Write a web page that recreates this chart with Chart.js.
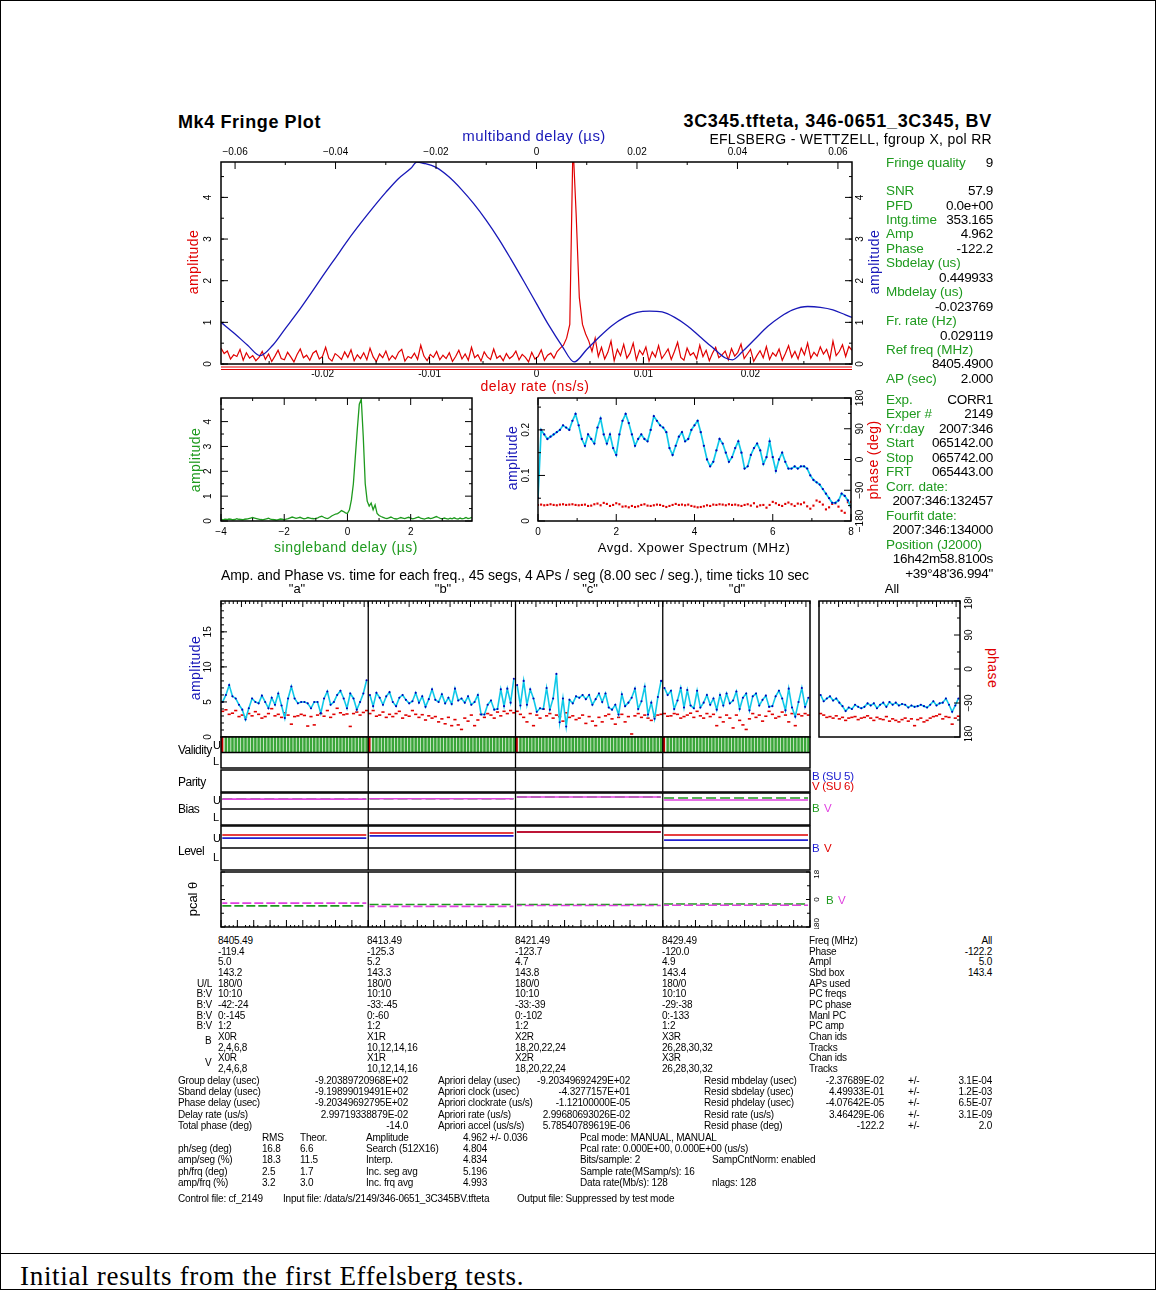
<!DOCTYPE html>
<html><head><meta charset="utf-8">
<script src="https://cdn.jsdelivr.net/npm/chart.js@4.4.0/dist/chart.umd.min.js"></script>
<style>
body{margin:0;background:#fff;width:1156px;height:1290px;position:relative;overflow:hidden;font-family:"Liberation Sans",Arial,sans-serif}
.t{position:absolute;white-space:nowrap;line-height:1}
canvas{position:absolute}
</style></head><body>
<div style="position:absolute;left:0;top:0;width:1154px;height:1288px;border:1px solid #000"></div>
<div style="position:absolute;left:0;top:1253px;width:1156px;height:1px;background:#000"></div>
<script>
// ================= DATA =================
// Top panel: delay-rate spectrum (red), delay rate axis -0.0295..0.0295 ns/s, 200 bins
const delayRateRange = [-0.0295, 0.0295];
const delayRateAmp = [
.38,.25,.31,.12,.22,.18,.35,.09,.27,.14, .20,.08,.16,.30,.11,.24,.06,.19,.33,.13,
.10,.28,.17,.05,.23,.36,.15,.21,.09,.26, .32,.12,.18,.40,.14,.07,.25,.19,.11,.29,
.16,.34,.08,.22,.13,.27,.10,.38,.17,.06, .24,.15,.31,.09,.20,.12,.28,.35,.07,.18,
.14,.26,.11,.45,.19,.08,.23,.16,.30,.10, .21,.13,.27,.06,.18,.33,.12,.24,.09,.40,
.15,.22,.07,.29,.17,.11,.36,.14,.20,.08, .25,.13,.19,.31,.10,.23,.16,.05,.28,.12,
.18,.34,.09,.21,.26,.14,.30,.38,.45,.62, .95,5.3,3.6,1.6,.95,.72,.55,.30,.62,.18,
.40,.12,.28,.55,.08,.35,.20,.47,.14,.26, .50,.10,.33,.22,.41,.07,.29,.17,.44,.13,
.24,.36,.11,.30,.52,.16,.09,.38,.21,.27, .12,.45,.18,.33,.08,.26,.40,.15,.22,.31,
.10,.37,.19,.28,.48,.13,.24,.35,.06,.20, .32,.15,.42,.11,.27,.19,.36,.09,.25,.44,
.16,.30,.12,.38,.22,.50,.14,.28,.19,.41, .24,.35,.11,.55,.20,.30,.46,.18,.42,.33];
// Top panel: multiband delay function (blue)
const mbdDelay = [-0.0628,-0.0600,-0.0575,-0.0550,-0.0525,-0.0500,-0.0475,-0.0450,-0.0425,-0.0400,-0.0375,-0.0350,-0.0325,-0.0300,-0.0275,-0.0250,-0.0238,-0.0225,-0.0200,-0.0175,-0.0150,-0.0125,-0.0100,-0.0075,-0.0050,-0.0025,0.0000,0.0025,0.0050,0.0075,0.0100,0.0125,0.0150,0.0175,0.0200,0.0225,0.0250,0.0275,0.0300,0.0325,0.0350,0.0375,0.0390,0.0410,0.0435,0.0460,0.0485,0.0510,0.0540,0.0565,0.0590,0.0615,0.0628];
const mbdAmp = [1.00,0.72,0.45,0.20,0.45,0.85,1.25,1.68,2.12,2.55,2.98,3.38,3.76,4.12,4.45,4.70,4.85,4.82,4.72,4.50,4.20,3.85,3.45,3.00,2.50,1.98,1.45,0.92,0.45,0.05,0.35,0.65,0.92,1.12,1.24,1.27,1.25,1.12,0.92,0.66,0.40,0.15,0.10,0.30,0.60,0.90,1.13,1.30,1.38,1.36,1.30,1.18,1.12];
const mbdTicks = [-0.06,-0.04,-0.02,0,0.02,0.04,0.06];
const mbdTickLabels = ['\u22120.06','\u22120.04','\u22120.02','0','0.02','0.04','0.06'];
const drTicks = [-0.02,-0.01,0,0.01,0.02];
const drTickLabels = ['-0.02','-0.01','0','0.01','0.02'];
const ampTicks = [0,1,2,3,4];

// Singleband delay (green), -4 .. 3.9375 us in 0.0625 steps
const sbdStart = -4, sbdStep = 0.0625;
const sbdAmp = [
.06,.05,.07,.06,.08,.07,.05,.06,.09,.07,.06,.05,.07,.08,.10,.12,
.14,.12,.10,.08,.06,.05,.07,.09,.11,.08,.06,.05,.04,.06,.08,.07,
.05,.08,.10,.13,.16,.14,.11,.13,.15,.12,.09,.11,.14,.12,.10,.09,
.11,.13,.17,.19,.15,.12,.10,.14,.20,.24,.28,.30,.35,.42,.38,.33,
.30,.45,.85,1.5,2.6,3.7,4.7,4.9,3.4,1.5,0.8,0.6,0.72,0.45,0.65,0.3,
.22,.18,.15,.12,.10,.13,.16,.12,.09,.08,.11,.14,.12,.10,.13,.15,
.12,.09,.11,.14,.16,.12,.10,.08,.11,.13,.10,.12,.15,.18,.14,.11,
.09,.12,.10,.08,.11,.09,.13,.10,.08,.12,.09,.11,.14,.10,.12,.15];
const sbdTicks = [-4,-2,0,2];

// Averaged cross-power spectrum, 0..8 MHz, 0.08 MHz steps
const xpStep = 0.08;
const xpAmp = [0.05,0.20,0.19,0.18,0.185,0.19,0.195,0.20,0.21,0.205,0.20,0.22,0.235,0.21,0.18,0.165,0.19,0.18,0.17,0.205,0.225,0.19,0.17,0.19,0.16,0.145,0.19,0.22,0.235,0.215,0.19,0.165,0.18,0.19,0.18,0.175,0.20,0.23,0.22,0.21,0.205,0.195,0.16,0.145,0.165,0.185,0.195,0.175,0.18,0.20,0.21,0.22,0.195,0.165,0.135,0.12,0.13,0.155,0.18,0.17,0.15,0.13,0.14,0.16,0.175,0.15,0.115,0.12,0.145,0.16,0.17,0.155,0.125,0.14,0.175,0.14,0.11,0.135,0.15,0.13,0.115,0.115,0.12,0.115,0.12,0.12,0.115,0.10,0.09,0.085,0.08,0.07,0.06,0.05,0.04,0.04,0.045,0.06,0.055,0.045,0.03];
const xpPhase = [-133,-132,-134,-133,-131,-133,-134,-132,-131,-133,-132,-131,-133,-134,-133,-132,-136,-135,-131,-129,-134,-127,-130,-136,-133,-128,-131,-138,-137,-140,-136,-139,-137,-133,-131,-135,-136,-134,-132,-133,-136,-139,-136,-133,-130,-133,-132,-134,-132,-136,-138,-140,-139,-137,-134,-136,-132,-133,-131,-132,-134,-131,-133,-132,-134,-136,-133,-131,-135,-128,-138,-134,-133,-141,-133,-124,-128,-133,-136,-130,-126,-131,-136,-129,-131,-126,-137,-144,-135,-120,-124,-132,-146,-140,-130,-128,-138,-150,-156,-125,-124];
const xpTicks = [0,2,4,6,8];
const xpAmpTicks = [0,0.1,0.2];
const phaseTicks = [-180,-90,0,90,180];

// Amplitude / phase vs time, 45 segments per channel
const segAmpA = [5.0,6.0,7.4,5.8,5.5,4.6,3.9,2.5,4.1,5.5,5.0,4.8,5.9,5.0,4.1,5.6,4.6,6.2,4.5,2.7,5.5,7.2,5.5,4.8,5.0,5.0,4.8,4.1,5.0,5.0,3.4,5.5,6.5,4.6,5.0,6.0,6.6,5.5,4.1,6.2,5.5,3.9,5.0,6.2,8.1];
const segAmpB = [6.0,4.4,6.3,5.6,4.6,5.8,6.4,5.0,4.4,5.6,6.0,5.3,4.8,5.1,6.3,4.9,5.8,4.3,5.4,6.8,5.3,5.0,6.1,4.8,5.6,4.7,6.9,5.2,5.5,4.9,5.8,4.6,5.0,6.0,3.2,3.2,4.6,5.2,3.9,4.0,6.8,4.4,6.9,4.9,8.3];
const segAmpC = [7.4,4.5,8.0,4.6,6.8,5.5,3.6,4.1,4.0,7.0,3.9,5.5,9.0,2.1,5.5,1.5,5.3,4.8,5.8,5.6,6.0,5.4,6.0,4.6,5.4,6.2,5.0,6.2,4.2,3.9,4.6,3.2,6.1,4.4,4.9,5.6,6.9,4.0,5.1,7.2,3.2,4.9,2.6,5.7,8.0];
const segAmpD = [7.0,6.0,6.6,4.0,5.2,7.0,4.2,6.7,4.5,4.1,6.6,4.2,4.9,6.0,4.6,5.5,3.9,6.0,4.5,6.2,4.8,5.2,6.5,4.0,5.6,6.2,3.8,5.8,6.2,4.5,5.3,5.9,4.3,4.4,5.8,6.6,5.5,3.8,6.9,4.2,2.9,5.0,7.0,4.3,5.6];
const segAmpAll = [6.0,5.1,5.5,5.8,5.2,5.5,4.9,4.4,3.7,4.2,4.0,4.6,4.3,4.1,4.3,4.8,4.5,4.8,4.1,4.6,4.9,4.3,5.0,4.6,4.9,4.5,4.7,4.6,4.2,4.5,4.3,4.4,4.6,4.4,4.2,4.6,5.1,4.5,4.8,4.9,5.5,4.6,3.6,4.5,5.5];
const segPhA = [-112,-108,-120,-117,-110,-126,-122,-128,-118,-124,-113,-120,-130,-126,-118,-105,-124,-120,-128,-116,-122,-146,-126,-124,-120,-123,-151,-126,-148,-122,-118,-125,-110,-128,-120,-104,-116,-121,-119,-152,-118,-114,-122,-115,-110];
const segPhB = [-118,-110,-125,-122,-114,-128,-120,-126,-118,-112,-130,-122,-125,-110,-120,-128,-121,-135,-124,-130,-126,-140,-132,-145,-128,-150,-134,-148,-160,-130,-138,-122,-150,-135,-120,-128,-118,-122,-130,-114,-124,-112,-118,-110,-116];
const segPhC = [-112,-120,-128,-140,-118,-150,-122,-130,-106,-124,-118,-130,-122,-126,-138,-116,-128,-124,-134,-130,-122,-144,-126,-138,-150,-128,-140,-124,-120,-132,-146,-128,-120,-140,-126,-172,-124,-118,-128,-122,-130,-136,-126,-122,-120];
const segPhD = [-118,-125,-124,-118,-120,-130,-126,-122,-117,-128,-112,-124,-130,-118,-126,-120,-150,-128,-140,-122,-130,-156,-122,-136,-148,-160,-132,-118,-128,-122,-138,-125,-112,-120,-130,-126,-114,-122,-140,-118,-150,-120,-124,-118,-122];
const segPhAll = [-118,-122,-128,-126,-130,-124,-132,-128,-136,-130,-128,-126,-134,-130,-128,-124,-130,-136,-128,-132,-134,-126,-138,-132,-136,-140,-134,-130,-138,-132,-150,-134,-130,-140,-136,-130,-126,-124,-120,-132,-126,-128,-146,-130,-125];
const segAmpTicks = [0,5,10,15];
const channels = ['"a"','"b"','"c"','"d"'];
const nSegs = 45;
// validity per segment: 'r' flagged, '1' valid, '0' blank
const validity = [
'r11111111111111111111111111111111111111111111',
'r11111111111111111111111111111111111111111111',
'r11111111111111111111111111111111111111111111',
'r11111111111111111111111111111111111111111111'];
// Bias / level / pcal per channel (B, V)
const biasB = [1.62,1.64,1.75,1.69];
const biasV = [1.62,1.64,1.75,1.56];
const levelB = [1.45,1.55,1.73,1.36];
const levelV = [1.59,1.68,1.73,1.59];
const pcalB = [-42,-33,-33,-29];
const pcalV = [-24,-45,-39,-38];

// ================= HELPERS =================
const deco = {
  id:'deco',
  beforeDatasetsDraw(chart, args, o){
    if(!o.band)return;
    const ctx=chart.ctx,a=chart.chartArea,s=chart.scales[o.band.scale];
    const y1=s.getPixelForValue(o.band.to),y0=s.getPixelForValue(o.band.from);
    ctx.save();ctx.fillStyle=o.band.color;ctx.fillRect(a.left,y1,a.right-a.left,y0-y1);ctx.restore();
  },
  afterDatasetsDraw(chart, args, o){
    const ctx=chart.ctx, a=chart.chartArea;
    ctx.save();
    ctx.strokeStyle='#000';
    ctx.lineWidth=1.3;
    (o.hlines||[]).forEach(h=>{const s=chart.scales[h.scale];const p=s.getPixelForValue(h.value);ctx.beginPath();ctx.moveTo(a.left,p);ctx.lineTo(a.right,p);ctx.stroke();});
    (o.vlines||[]).forEach(v=>{const s=chart.scales[v.scale||'x'];const p=s.getPixelForValue(v.value);ctx.beginPath();ctx.moveTo(p,a.top);ctx.lineTo(p,a.bottom);ctx.stroke();});
    (o.axes||[]).forEach(ax=>{
      const s=chart.scales[ax.scale];
      ctx.strokeStyle='#000';ctx.lineWidth=1;
      const tick=(v,len)=>{const p=s.getPixelForValue(v);ctx.beginPath();
        if(ax.side==='bottom'){ctx.moveTo(p,a.bottom);ctx.lineTo(p,a.bottom-len);}
        else if(ax.side==='top'){ctx.moveTo(p,a.top);ctx.lineTo(p,a.top+len);}
        else if(ax.side==='left'){ctx.moveTo(a.left,p);ctx.lineTo(a.left+len,p);}
        else {ctx.moveTo(a.right,p);ctx.lineTo(a.right-len,p);}
        ctx.stroke();};
      (ax.minor||[]).forEach(v=>tick(v,ax.mlen||3));
      (ax.major||[]).forEach(v=>tick(v,ax.len||6));
      if(ax.labels){
        ctx.fillStyle=ax.color||'#000';ctx.font=ax.font||'10px "Liberation Sans"';ctx.textAlign='center';ctx.textBaseline='middle';
        ax.major.forEach((v,i)=>{const t=ax.labels[i];if(t==null)return;const p=s.getPixelForValue(v);const off=ax.off||10;
          if(ax.side==='bottom')ctx.fillText(t,p,a.bottom+off);
          else if(ax.side==='top')ctx.fillText(t,p,a.top-off);
          else{const x=ax.side==='left'?a.left-off:a.right+off;ctx.save();ctx.translate(x,p);ctx.rotate(-Math.PI/2);ctx.fillText(t,0,0);ctx.restore();}
        });
      }
    });
    if(o.frame!==false){ctx.strokeStyle='#000';ctx.lineWidth=o.fw||1.5;ctx.strokeRect(a.left,a.top,a.right-a.left,a.bottom-a.top);}
    if(o.under){ctx.strokeStyle=o.under;ctx.lineWidth=1.2;[3,5.5].forEach(d=>{ctx.beginPath();ctx.moveTo(a.left,a.bottom+d);ctx.lineTo(a.right,a.bottom+d);ctx.stroke();});}
    ctx.restore();
  }
};
Chart.register(deco);

function mk(rect,pad,cfg){
  const [l,t,r,b]=rect;
  const c=document.createElement('canvas');
  const W=r-l+pad[0]+pad[2],H=b-t+pad[1]+pad[3];
  c.width=W;c.height=H;c.style.left=(l-pad[0])+'px';c.style.top=(t-pad[1])+'px';c.style.width=W+'px';c.style.height=H+'px';
  document.body.appendChild(c);
  const o=cfg.options||{};
  o.responsive=false;o.animation=false;o.events=[];
  o.layout={padding:{left:pad[0],top:pad[1],right:pad[2],bottom:pad[3]},autoPadding:false};
  o.plugins=Object.assign({legend:{display:false},tooltip:{enabled:false}},o.plugins||{});
  cfg.options=o;
  return new Chart(c,cfg);
}
function T(x,y,s,o={}){
  const d=document.createElement('div');d.className='t';const size=o.size||11;
  d.style.fontSize=size+'px';d.style.left=x+'px';d.style.top=(y-size*0.5)+'px';
  if(o.color)d.style.color=o.color;if(o.bold)d.style.fontWeight='bold';if(o.ls!=null)d.style.letterSpacing=o.ls+'px';
  if(o.font)d.style.fontFamily=o.font;
  let tr='';if(o.align==='right')tr='translateX(-100%)';else if(o.align==='center')tr='translateX(-50%)';
  if(o.rot){tr='translate(-50%,-50%) rotate('+o.rot+'deg)';d.style.top=y+'px';}
  d.style.transform=tr;d.textContent=s;document.body.appendChild(d);return d;
}
const range=(a,b,st)=>{const r=[];for(let v=a;v<=b+1e-9;v+=st)r.push(+v.toFixed(6));return r;};
const RED='#e00000',BLUE='#1818b8',GREEN='#1e9a1e',CYAN='#10c8e8',DBLUE='#0000b8',MAG='#e040e0',LBLUE='#2020d0';

// ================= TOP PANEL =================
const drStep=(delayRateRange[1]-delayRateRange[0])/(delayRateAmp.length-1);
mk([221,162,852,364],[55,22,45,30],{
  type:'line',
  data:{datasets:[
    {data:mbdDelay.map((t,i)=>({x:t,y:mbdAmp[i]})),xAxisID:'x2',borderColor:BLUE,borderWidth:1.3,pointRadius:0,cubicInterpolationMode:'monotone'},
    {data:delayRateAmp.map((v,i)=>({x:delayRateRange[0]+i*drStep,y:v})),borderColor:RED,borderWidth:1.2,pointRadius:0}
  ]},
  options:{scales:{
    x:{type:'linear',min:delayRateRange[0],max:delayRateRange[1],display:false},
    x2:{type:'linear',axis:'x',min:-0.0628,max:0.0628,display:false},
    y:{min:0,max:4.85,display:false}},
    plugins:{deco:{under:RED,axes:[
      {scale:'x',side:'bottom',major:drTicks,labels:drTickLabels,minor:range(-0.025,0.025,0.005),len:7,off:10},
      {scale:'x2',side:'top',major:mbdTicks,labels:mbdTickLabels,minor:range(-0.05,0.05,0.02),len:7,off:10},
      {scale:'y',side:'left',major:ampTicks,labels:ampTicks.map(String),minor:range(0,4.5,0.5),len:7,off:13},
      {scale:'y',side:'right',major:ampTicks,labels:ampTicks.map(String),minor:range(0,4.5,0.5),len:7,off:8}]}}}
});

// ================= SINGLEBAND =================
mk([221,398,472,521],[40,10,10,22],{
  type:'line',
  data:{datasets:[{data:sbdAmp.map((v,i)=>({x:sbdStart+i*sbdStep,y:v})),borderColor:GREEN,borderWidth:1.3,pointRadius:0}]},
  options:{scales:{x:{type:'linear',min:-4,max:3.94,display:false},y:{min:0,max:4.95,display:false}},
    plugins:{deco:{axes:[
      {scale:'x',side:'bottom',major:sbdTicks,labels:sbdTicks.map(v=>v<0?'\u2212'+(-v):String(v)),minor:[-3,-1,1,3],len:7,off:11},
      {scale:'x',side:'top',major:sbdTicks,minor:[-3,-1,1,3],len:7},
      {scale:'y',side:'left',major:ampTicks,labels:ampTicks.map(String),minor:range(0.5,4.5,1),len:7,off:13},
      {scale:'y',side:'right',major:ampTicks,minor:range(0.5,4.5,1),len:7}]}}}
});

// ================= XPOWER SPECTRUM =================
mk([538,398,851,521],[20,10,20,22],{
  type:'line',
  data:{datasets:[
    {data:xpAmp.map((v,i)=>({x:i*xpStep,y:v})),borderColor:CYAN,borderWidth:1.7,pointRadius:1.15,pointBackgroundColor:DBLUE,pointBorderWidth:0},
    {data:xpPhase.map((v,i)=>({x:i*xpStep,y:v})),yAxisID:'y2',showLine:false,pointStyle:'rect',pointRadius:1.5,pointBackgroundColor:RED,pointBorderWidth:0}
  ]},
  options:{scales:{x:{type:'linear',min:0,max:8,display:false},y:{min:0,max:0.27,display:false},y2:{type:'linear',axis:'y',position:'right',min:-180,max:180,display:false}},
    plugins:{deco:{axes:[
      {scale:'x',side:'bottom',major:xpTicks,labels:xpTicks.map(String),minor:[1,3,5,7],len:7,off:11},
      {scale:'x',side:'top',major:xpTicks,minor:[1,3,5,7],len:7},
      {scale:'y',side:'left',major:xpAmpTicks,labels:['0','0.1','0.2'],minor:[0.05,0.15,0.25],len:7,off:12},
      {scale:'y2',side:'right',major:phaseTicks,labels:['\u2212180','\u221290','0','90','180'],minor:[-135,-45,45,135],len:7,off:9}]}}}
});

// ================= SEGMENT PLOTS =================
const segAmps=[segAmpA,segAmpB,segAmpC,segAmpD], segPhs=[segPhA,segPhB,segPhC,segPhD];
const segTicksMinor=[],segTicksMajor=[];
for(let c=0;c<4;c++){for(let k=0;k*1.25<=nSegs+1e-9;k++){(k%5===0?segTicksMajor:segTicksMinor).push(c*nSegs+k*1.25);}}
const allTicksMinor=[],allTicksMajor=[];
for(let k=0;k*1.25<=nSegs+1e-9;k++){(k%5===0?allTicksMajor:allTicksMinor).push(k*1.25);}
const dividers=[1,2,3].map(c=>({value:c*nSegs}));
const segDS=[];
segAmps.forEach((arr,c)=>segDS.push({data:arr.map((v,i)=>({x:c*nSegs+i+0.5,y:v})),borderColor:CYAN,borderWidth:1.6,pointRadius:1.05,pointBackgroundColor:DBLUE,pointBorderWidth:0}));
segPhs.forEach((arr,c)=>segDS.push({data:arr.map((v,i)=>({x:c*nSegs+i+0.5,y:v})),yAxisID:'y2',showLine:false,pointStyle:'line',pointRadius:1.6,borderColor:RED,borderWidth:1.6}));
mk([221,601,810,737],[40,4,4,4],{
  type:'line',data:{datasets:segDS},
  options:{scales:{x:{type:'linear',min:0,max:4*nSegs,display:false},y:{min:0,max:19.4,display:false},y2:{type:'linear',axis:'y',min:-180,max:180,display:false}},
    plugins:{deco:{vlines:dividers,axes:[
      {scale:'x',side:'top',major:segTicksMajor,minor:segTicksMinor,len:6,mlen:3},
      {scale:'y',side:'left',major:segAmpTicks,labels:segAmpTicks.map(String),minor:range(1,19,1),len:6,mlen:3,off:13}]}}}
});
mk([819,601,960,737],[4,4,24,4],{
  type:'line',data:{datasets:[
    {data:segAmpAll.map((v,i)=>({x:i+0.5,y:v})),borderColor:CYAN,borderWidth:1.6,pointRadius:1.05,pointBackgroundColor:DBLUE,pointBorderWidth:0},
    {data:segPhAll.map((v,i)=>({x:i+0.5,y:v})),yAxisID:'y2',showLine:false,pointStyle:'line',pointRadius:1.6,borderColor:RED,borderWidth:1.6}]},
  options:{scales:{x:{type:'linear',min:0,max:nSegs,display:false},y:{min:0,max:19.4,display:false},y2:{type:'linear',axis:'y',min:-180,max:180,display:false}},
    plugins:{deco:{axes:[
      {scale:'x',side:'top',major:allTicksMajor,minor:allTicksMinor,len:6,mlen:3},
      {scale:'y2',side:'right',major:phaseTicks,labels:['\u2212180','\u221290','0','90','180'],minor:[-135,-45,45,135],len:6,off:9}]}}}
});

// Validity
const valData=[],valRed=[];
validity.forEach((s,c)=>{[...s].forEach((ch,i)=>{if(ch==='1')valData.push({x:c*nSegs+i+0.5,y:[1,2]});else if(ch==='r')valRed.push({x:c*nSegs+i+0.3,y:[1,2]});});});
mk([221,737,810,768],[4,2,4,2],{
  type:'bar',data:{datasets:[
    {data:valRed,backgroundColor:'#c00000',barThickness:2,grouped:false},
    {data:valData,backgroundColor:'#3aa63a',barThickness:1.8,grouped:false}]},
  options:{scales:{x:{type:'linear',offset:false,min:0,max:4*nSegs,display:false},y:{min:0,max:2,display:false}},
    plugins:{deco:{band:{scale:'y',from:1,to:2,color:'#e4f4e0'},vlines:dividers,hlines:[{scale:'y',value:1}]}}}
});
// Parity
mk([221,770,810,792],[4,2,4,2],{type:'line',data:{datasets:[]},
  options:{scales:{x:{type:'linear',min:0,max:4*nSegs,display:false},y:{min:0,max:1,display:false}},plugins:{deco:{vlines:dividers}}}});
// helper: per-channel constant lines
function chanLine(vals){const d=[];vals.forEach((v,c)=>{d.push({x:c*nSegs+0.4,y:v},{x:c*nSegs+nSegs-0.6,y:v},{x:c*nSegs+nSegs-0.5,y:null});});return d;}
// Bias (first dataset is drawn on top)
mk([221,793,810,825],[4,2,4,2],{type:'line',data:{datasets:[
    {data:chanLine(biasV),borderColor:MAG,borderWidth:1.6,pointRadius:0,spanGaps:false},
    {data:chanLine(biasB),borderColor:GREEN,borderWidth:1.6,pointRadius:0,spanGaps:false,borderDash:[10,4]}]},
  options:{scales:{x:{type:'linear',min:0,max:4*nSegs,display:false},y:{min:0,max:2,display:false}},plugins:{deco:{vlines:dividers,hlines:[{scale:'y',value:1}]}}}});
// Level
mk([221,826,810,870],[4,2,4,2],{type:'line',data:{datasets:[
    {data:chanLine(levelV),borderColor:RED,borderWidth:1.6,pointRadius:0,spanGaps:false},
    {data:chanLine(levelB),borderColor:LBLUE,borderWidth:1.6,pointRadius:0,spanGaps:false}]},
  options:{scales:{x:{type:'linear',min:0,max:4*nSegs,display:false},y:{min:0,max:2,display:false}},plugins:{deco:{vlines:dividers,hlines:[{scale:'y',value:1}]}}}});
// Pcal
const pcalTicksMajor=[];for(let c=0;c<4;c++)for(let k=0;k<=nSegs;k+=5)pcalTicksMajor.push(c*nSegs+k);
mk([221,872,810,927],[4,2,24,2],{type:'line',data:{datasets:[
    {data:chanLine(pcalV),borderColor:MAG,borderWidth:1.6,pointRadius:0,spanGaps:false,borderDash:[9,3],borderDashOffset:4},
    {data:chanLine(pcalB),borderColor:GREEN,borderWidth:1.6,pointRadius:0,spanGaps:false,borderDash:[9,3]}]},
  options:{scales:{x:{type:'linear',min:0,max:4*nSegs,display:false},y:{min:-180,max:180,display:false}},
    plugins:{deco:{vlines:dividers,axes:[
      {scale:'x',side:'bottom',major:pcalTicksMajor,minor:segTicksMinor,len:7,mlen:2},
      {scale:'y',side:'left',major:[-180,0,180],minor:[-90,90],len:4},
      {scale:'y',side:'right',major:[-180,0,180],labels:['\u2212180','0','180'],minor:[-90,90],len:4,off:7,font:'8px "Liberation Sans"'}]}}}});

// ================= TEXT =================
T(178,122,'Mk4 Fringe Plot',{size:18,bold:true,ls:0.6});
T(992,121,'3C345.tfteta, 346-0651_3C345, BV',{size:18,bold:true,ls:0.7,align:'right'});
T(992,139,'EFLSBERG - WETTZELL, fgroup X, pol RR',{size:14,ls:0.3,align:'right'});
T(534,135,'multiband delay (\u00b5s)',{size:15,color:BLUE,align:'center',ls:0.4});
T(193,262,'amplitude',{size:14,color:RED,rot:-90,ls:0.4});
T(874,262,'amplitude',{size:14,color:BLUE,rot:-90,ls:0.4});
T(535,386,'delay rate (ns/s)',{size:14,color:RED,align:'center',ls:0.5});
T(195,460,'amplitude',{size:14,color:GREEN,rot:-90,ls:0.4});
T(346,547,'singleband delay (\u00b5s)',{size:14,color:GREEN,align:'center',ls:0.5});
T(512,458,'amplitude',{size:14,color:BLUE,rot:-90,ls:0.4});
T(873,460,'phase (deg)',{size:14,color:RED,rot:-90,ls:0.4});
T(694,547,'Avgd. Xpower Spectrum (MHz)',{size:13,align:'center',ls:0.5});
T(515,575,'Amp. and Phase vs. time for each freq., 45 segs, 4 APs / seg (8.00 sec / seg.), time ticks 10 sec',{size:14,align:'center',ls:-0.05});
[297,443,590,737].forEach((x,i)=>T(x,588,channels[i],{size:13,align:'center'}));
T(892,588,'All',{size:13,align:'center'});
T(195,668,'amplitude',{size:14,color:BLUE,rot:-90,ls:0.4});
T(993,668,'phase',{size:14,color:RED,rot:90,ls:0.4});

// right info panel
const infoRows=[
 ['Fringe quality','9',163],['SNR','57.9',191],['PFD','0.0e+00',206],['Intg.time','353.165',220],['Amp','4.962',234],['Phase','-122.2',249],
 ['Sbdelay (us)','',263],['','0.449933',278],['Mbdelay (us)','',292],['','-0.023769',307],['Fr. rate (Hz)','',321],['','0.029119',336],
 ['Ref freq (MHz)','',350],['','8405.4900',364],['AP (sec)','2.000',379],['Exp.','CORR1',400],['Exper #','2149',414],['Yr:day','2007:346',429],
 ['Start','065142.00',443],['Stop','065742.00',458],['FRT','065443.00',472],['Corr. date:','',487],['','2007:346:132457',501],
 ['Fourfit date:','',516],['','2007:346:134000',530],['Position (J2000)','',545],['','16h42m58.8100s',559],['','+39\u00b048\'36.994"',574]];
infoRows.forEach(r=>{if(r[0])T(886,r[2],r[0],{size:13.5,color:GREEN,ls:-0.1});if(r[1])T(993,r[2],r[1],{size:13.5,align:'right',ls:-0.3});});

// strip labels
T(178,750,'Validity',{size:12,ls:-0.5});T(213,745,'U',{size:11});T(213,761,'L',{size:11});
T(178,782,'Parity',{size:12,ls:-0.5});
T(178,809,'Bias',{size:12,ls:-0.5});T(213,800,'U',{size:11});T(213,817,'L',{size:11});
T(178,851,'Level',{size:12,ls:-0.5});T(213,838,'U',{size:11});T(213,857,'L',{size:11});
T(192,899,'pcal \u03b8',{size:13,rot:-90});
T(812,777,'B (SU 5)',{size:11.5,color:LBLUE,ls:-0.3});T(812,787,'V (SU 6)',{size:11.5,color:RED,ls:-0.3});
T(812,809,'B',{size:11.5,color:GREEN});T(824,809,'V',{size:11.5,color:MAG});
T(812,849,'B',{size:11.5,color:LBLUE});T(824,849,'V',{size:11.5,color:RED});
T(826,901,'B',{size:11.5,color:GREEN});T(838,901,'V',{size:11.5,color:MAG});

// frequency table
const tbl=[
 ['',['8405.49','8413.49','8421.49','8429.49'],'Freq (MHz)','All'],
 ['',['-119.4','-125.3','-123.7','-120.0'],'Phase','-122.2'],
 ['',['5.0','5.2','4.7','4.9'],'Ampl','5.0'],
 ['',['143.2','143.3','143.8','143.4'],'Sbd box','143.4'],
 ['U/L',['180/0','180/0','180/0','180/0'],'APs used',''],
 ['B:V',['10:10','10:10','10:10','10:10'],'PC freqs',''],
 ['B:V',['-42:-24','-33:-45','-33:-39','-29:-38'],'PC phase',''],
 ['B:V',['0:-145','0:-60','0:-102','0:-133'],'Manl PC',''],
 ['B:V',['1:2','1:2','1:2','1:2'],'PC amp',''],
 ['',['X0R','X1R','X2R','X3R'],'Chan ids',''],
 ['',['2,4,6,8','10,12,14,16','18,20,22,24','26,28,30,32'],'Tracks',''],
 ['',['X0R','X1R','X2R','X3R'],'Chan ids',''],
 ['',['2,4,6,8','10,12,14,16','18,20,22,24','26,28,30,32'],'Tracks','']];
const TF={size:10,ls:-0.2};
tbl.forEach((r,i)=>{const y=941+i*10.65;
  if(r[0])T(212,y,r[0],Object.assign({align:'right'},TF));
  r[1].forEach((v,c)=>T([218,367,515,662][c],y,v,TF));
  T(809,y,r[2],TF);if(r[3])T(992,y,r[3],Object.assign({align:'right'},TF));});
T(205,1041,'B',TF);T(205,1063,'V',TF);

const blk=[
 ['Group delay (usec)','-9.20389720968E+02','Apriori delay (usec)','-9.20349692429E+02','Resid mbdelay (usec)','-2.37689E-02','3.1E-04'],
 ['Sband delay (usec)','-9.19899019491E+02','Apriori clock (usec)','-4.3277157E+01','Resid sbdelay (usec)','4.49933E-01','1.2E-03'],
 ['Phase delay (usec)','-9.20349692795E+02','Apriori clockrate (us/s)','-1.12100000E-05','Resid phdelay (usec)','-4.07642E-05','6.5E-07'],
 ['Delay rate (us/s)','2.99719338879E-02','Apriori rate (us/s)','2.99680693026E-02','Resid rate (us/s)','3.46429E-06','3.1E-09'],
 ['Total phase (deg)','-14.0','Apriori accel (us/s/s)','5.78540789619E-06','Resid phase (deg)','-122.2','2.0']];
blk.forEach((r,i)=>{const y=1081+i*11.2;
  T(178,y,r[0],TF);T(408,y,r[1],Object.assign({align:'right'},TF));T(438,y,r[2],TF);T(630,y,r[3],Object.assign({align:'right'},TF));
  T(704,y,r[4],TF);T(884,y,r[5],Object.assign({align:'right'},TF));T(908,y,'+/-',TF);T(992,y,r[6],Object.assign({align:'right'},TF));});
const st=[
 ['','RMS','Theor.','Amplitude','4.962 +/- 0.036','Pcal mode: MANUAL,  MANUAL',''],
 ['ph/seg (deg)','16.8','6.6','Search (512X16)','4.804','Pcal rate: 0.000E+00,  0.000E+00 (us/s)',''],
 ['amp/seg (%)','18.3','11.5','Interp.','4.834','Bits/sample: 2','SampCntNorm: enabled'],
 ['ph/frq (deg)','2.5','1.7','Inc. seg avg','5.196','Sample rate(MSamp/s): 16',''],
 ['amp/frq (%)','3.2','3.0','Inc. frq avg','4.993','Data rate(Mb/s): 128','nlags: 128']];
st.forEach((r,i)=>{const y=1138+i*11.2;[178,262,300,366,463,580,712].forEach((x,c)=>{if(r[c])T(x,y,r[c],TF);});});
T(178,1199,'Control file: cf_2149',TF);T(283,1199,'Input file: /data/s/2149/346-0651_3C345BV.tfteta',TF);T(517,1199,'Output file: Suppressed by test mode',TF);

T(20,1276,'Initial results from the first Effelsberg tests.',{size:27,ls:0.7,font:'"Liberation Serif","Times New Roman",serif'});
</script>
</body></html>
